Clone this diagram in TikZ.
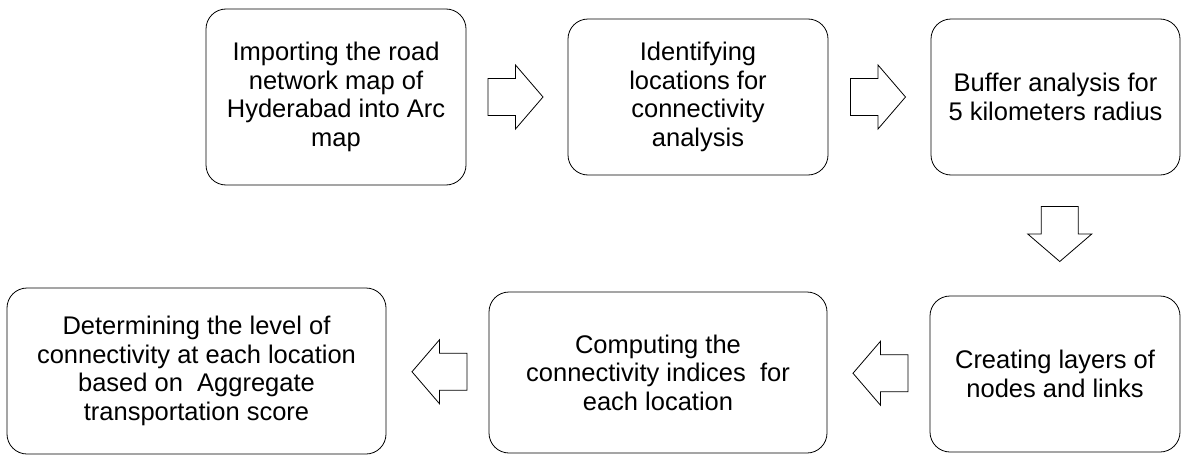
\documentclass[tikz,border=0pt]{standalone}
\usepackage{fontspec}
\setmainfont{Liberation Sans}
\usetikzlibrary{calc}
\tikzset{
  stepbox/.style={draw=black, line width=0.8pt, rounded corners=20pt, align=center,
    inner sep=0pt, font=\fontsize{25.5}{28.5}\selectfont, text=black},
  barrow/.pic={\draw[line width=0.8pt, fill=white] (-27.5,-18.5) -- (0,-18.5) -- (0,-32) -- (27.5,0) -- (0,32) -- (0,18.5) -- (-27.5,18.5) -- cycle;}
}
\begin{document}
\begin{tikzpicture}[x=1pt,y=-1pt]
\useasboundingbox (0,0) rectangle (1181,455);
\node[stepbox, minimum width=260pt, minimum height=176pt] (b1) at (336,97)
  {Importing the road\\network map of\\Hyderabad into Arc\\map};
\node[stepbox, minimum width=260pt, minimum height=156pt] (b2) at (698,97)
  {Identifying\\locations for\\connectivity\\analysis};
\node[stepbox, minimum width=249pt, minimum height=156pt] (b3) at (1055.5,97)
  {Buffer analysis for\\5 kilometers radius};
\node[stepbox, minimum width=250pt, minimum height=156pt] (b4) at (1055,374)
  {Creating layers of\\nodes and links};
\node[stepbox, minimum width=338pt, minimum height=161pt] (b5) at (658,372.5)
  {Computing the\\connectivity indices~ for\\each location};
\node[stepbox, minimum width=379pt, minimum height=166pt] (b6) at (196.5,371)
  {Determining the level of\\connectivity at each location\\based on~ Aggregate\\transportation score};
\pic at ($(b1.east)!0.5!(b2.west)+(-1.5,0)$) {barrow};
\pic at ($(b2.east)!0.5!(b3.west)+(-1.5,0)$) {barrow};
\pic[rotate=-90] at ($(b3.south)!0.5!(b4.north)+(4.5,-1.5)$) {barrow};
\pic[rotate=180] at ($(b4.west)!0.5!(b5.east)+(2,0)$) {barrow};
\pic[rotate=180] at ($(b5.west)!0.5!(b6.east)+(2,0)$) {barrow};
\end{tikzpicture}
\end{document}
